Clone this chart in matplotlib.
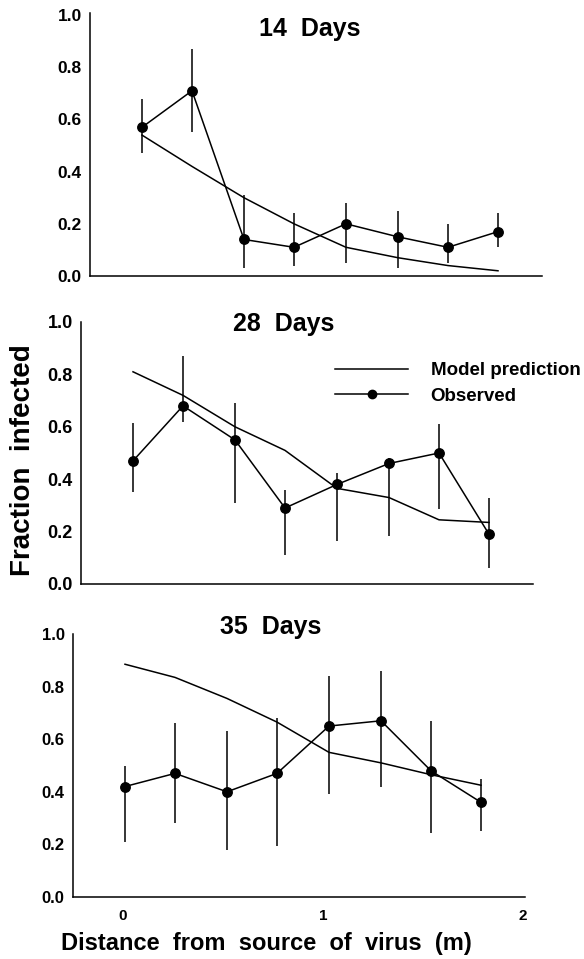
import numpy as np
import matplotlib
matplotlib.use('Agg')
import matplotlib.pyplot as plt
from matplotlib.lines import Line2D

plt.rcParams['font.family'] = ['Liberation Sans', 'DejaVu Sans']
plt.rcParams['font.weight'] = 'bold'

W, H = 584, 959

# distance from source of virus (m)
distance = [0.01, 0.26, 0.52, 0.77, 1.03, 1.29, 1.54, 1.79]

# 14 days
obs_14 = [0.57, 0.71, 0.14, 0.11, 0.20, 0.15, 0.11, 0.17]
hi_14 = [0.68, 0.87, 0.31, 0.24, 0.28, 0.25, 0.20, 0.24]
lo_14 = [0.47, 0.55, 0.03, 0.04, 0.05, 0.03, 0.05, 0.11]
model_14 = [0.54, 0.42, 0.30, 0.20, 0.11, 0.07, 0.04, 0.02]

# 28 days
obs_28 = [0.47, 0.68, 0.55, 0.29, 0.38, 0.46, 0.50, 0.19]
hi_28 = [0.615, 0.87, 0.69, 0.36, 0.425, 0.48, 0.61, 0.33]
lo_28 = [0.35, 0.62, 0.31, 0.11, 0.165, 0.185, 0.285, 0.06]
model_28 = [0.81, 0.72, 0.60, 0.51, 0.365, 0.33, 0.245, 0.235]

# 35 days
obs_35 = [0.42, 0.47, 0.40, 0.47, 0.65, 0.67, 0.48, 0.36]
hi_35 = [0.50, 0.66, 0.63, 0.68, 0.84, 0.86, 0.67, 0.45]
lo_35 = [0.21, 0.28, 0.18, 0.195, 0.39, 0.42, 0.245, 0.25]
model_35 = [0.885, 0.835, 0.755, 0.665, 0.55, 0.51, 0.465, 0.425]

titles = ['14  Days', '28  Days', '35  Days']
yticks = [0.0, 0.2, 0.4, 0.6, 0.8, 1.0]

fig = plt.figure(figsize=(W / 100, H / 100), dpi=100)


def px_axes(left, right, bottom, top):
    return fig.add_axes([left / W, 1 - bottom / H, (right - left) / W, (bottom - top) / H])


panels = [
    (obs_14, lo_14, hi_14, model_14, (90, 542, 276, 13), 1.008, (310, 36), 12.5),
    (obs_28, lo_28, hi_28, model_28, (81, 533, 584, 322), 1.0, (284, 331), 13),
    (obs_35, lo_35, hi_35, model_35, (73, 525, 897, 634), 1.0, (271, 634), 12),
]

axes = []
for i, (obs, lo, hi, model, box, ytop, tpos, fs) in enumerate(panels):
    ax = px_axes(*box)
    obs = np.array(obs)
    err = [obs - np.array(lo), np.array(hi) - obs]
    ax.plot(distance, model, color='black', lw=1.1)
    ax.errorbar(distance, obs, yerr=err, fmt='-o', color='black', ms=6.8,
                lw=1.1, elinewidth=1.1, capsize=0)
    ax.set_xlim(-0.25, 2.01)
    ax.set_ylim(0, ytop)
    ax.set_yticks(yticks)
    ax.set_yticklabels(['%.1f' % v for v in yticks], fontsize=fs, fontweight='bold')
    ax.spines['top'].set_visible(False)
    ax.spines['right'].set_visible(False)
    ax.spines['left'].set_linewidth(1.1)
    ax.spines['bottom'].set_linewidth(1.1)
    ax.tick_params(length=0, pad=6)
    if i < 2:
        ax.set_xticks([])
    else:
        ax.set_xticks([0, 1, 2])
        ax.set_xticklabels(['0', '1', '2'], fontsize=11, fontweight='bold')
        ax.tick_params(axis='x', pad=9)
    fig.text(tpos[0] / W, 1 - tpos[1] / H, titles[i], ha='center', va='baseline',
             fontsize=18, fontweight='bold')
    axes.append(ax)

handles = [Line2D([], [], color='black', lw=1.1),
           Line2D([], [], color='black', lw=1.1, marker='o', ms=6)]
fig.legend(handles, ['Model prediction', 'Observed'], loc='upper left',
           bbox_to_anchor=(335 / W, 1 - 362 / H), frameon=False, fontsize=13.5,
           handlelength=3.9, handletextpad=1.2, labelspacing=0.45,
           borderpad=0, borderaxespad=0)

fig.text(23 / W, 1 - 460 / H, 'Fraction  infected', rotation=90, ha='center',
         va='center', fontsize=20, fontweight='bold')
fig.text(266 / W, 1 - 950 / H, 'Distance  from  source  of  virus  (m)', ha='center',
         va='baseline', fontsize=17, fontweight='bold')

fig.savefig('out.png', dpi=100)
